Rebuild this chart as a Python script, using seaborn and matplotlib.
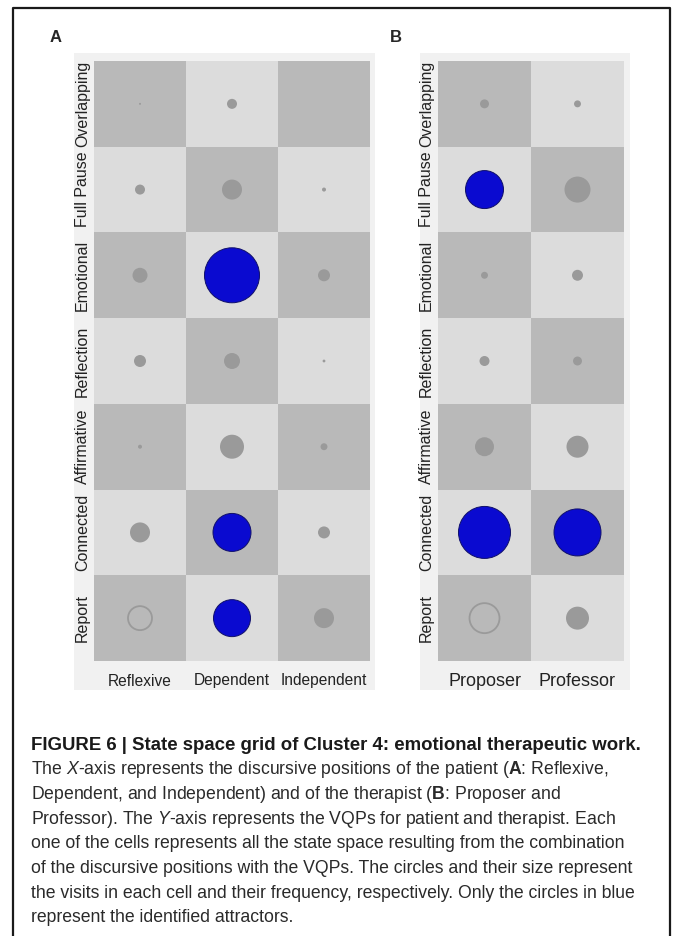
import numpy as np
import pandas as pd
import matplotlib
matplotlib.use("Agg")
import matplotlib.pyplot as plt
import seaborn as sns
from matplotlib.colors import ListedColormap
from matplotlib.lines import Line2D
from matplotlib.patches import Rectangle

# --- data ---------------------------------------------------------------
vqp = ["Overlapping", "Full Pause", "Emotional", "Reflection",
       "Affirmative", "Connected", "Report"]
patient_pos = ["Reflexive", "Dependent", "Independent"]
therapist_pos = ["Proposer", "Professor"]

# visits per cell (circle area), rows follow vqp from top to bottom
visits_reflexive = [1, 25, 56, 36, 4, 100, 144]
visits_dependent = [25, 100, 756, 64, 144, 361, 342]
visits_independent = [0, 4, 36, 2, 12, 36, 100]
visits_proposer = [20, 361, 12, 25, 90, 676, 225]
visits_professor = [12, 169, 30, 20, 121, 552, 132]

attractors_a = [("Emotional", "Dependent"), ("Connected", "Dependent"),
                ("Report", "Dependent")]
attractors_b = [("Full Pause", "Proposer"), ("Connected", "Proposer"),
                ("Connected", "Professor")]
hollow_a = [("Report", "Reflexive")]
hollow_b = [("Report", "Proposer")]

caption = [
    "FIGURE 6 | State space grid of Cluster 4: emotional therapeutic work.",
    r"The $\it{X}$-axis represents the discursive positions of the patient ($\bf{A}$: Reflexive,",
    r"Dependent, and Independent) and of the therapist ($\bf{B}$: Proposer and",
    r"Professor). The $\it{Y}$-axis represents the VQPs for patient and therapist. Each",
    "one of the cells represents all the state space resulting from the combination",
    "of the discursive positions with the VQPs. The circles and their size represent",
    "the visits in each cell and their frequency, respectively. Only the circles in blue",
    "represent the identified attractors.",
]

DARK = "#b9b9b9"
LIGHT = "#dcdcdc"
DOT = "#9a9a9a"
BLUE = "#0a0ad0"
VMAX = 800
AREA_PER_VISIT = 2.0736  # pt^2 per visit

sns.set_style("white")
plt.rcParams["font.family"] = ["Liberation Sans", "DejaVu Sans"]
plt.rcParams["mathtext.fontset"] = "custom"
plt.rcParams["mathtext.rm"] = "Liberation Sans"
plt.rcParams["mathtext.it"] = "Liberation Sans:italic"
plt.rcParams["mathtext.bf"] = "Liberation Sans:bold"


def draw_panel(ax, cols, visit_lists, attractors, hollow, xfs):
    checker = pd.DataFrame(
        [[(i + j) % 2 == 0 for j in range(len(cols))] for i in range(len(vqp))],
        index=vqp, columns=cols).astype(int)
    sns.heatmap(checker, ax=ax, cmap=ListedColormap([LIGHT, DARK]),
                vmin=0, vmax=1, cbar=False, linewidths=0)

    rows = []
    for j, col in enumerate(cols):
        for i, row in enumerate(vqp):
            v = visit_lists[j][i]
            if v <= 0:
                continue
            if (row, col) in attractors:
                kind = "attractor"
            elif (row, col) in hollow:
                kind = "hollow"
            else:
                kind = "visit"
            rows.append({"x": j + 0.5, "y": i + 0.5, "visits": v, "kind": kind})
    df = pd.DataFrame(rows)

    common = dict(x="x", y="y", size="visits", sizes=(0, AREA_PER_VISIT * VMAX),
                  size_norm=(0, VMAX), legend=False, ax=ax, zorder=3)
    sns.scatterplot(data=df[df.kind == "visit"], color=DOT, linewidth=0, **common)
    sns.scatterplot(data=df[df.kind == "attractor"], color=BLUE,
                    edgecolor="#10106a", linewidth=0.7, **common)
    sns.scatterplot(data=df[df.kind == "hollow"], facecolors="none",
                    edgecolor=DOT, linewidth=1.3, **common)

    ax.set_xlim(0, len(cols))
    ax.set_ylim(len(vqp), 0)
    ax.set_xlabel("")
    ax.set_ylabel("")
    ax.set_xticks(np.arange(len(cols)) + 0.5)
    ax.set_xticklabels(cols, rotation=0, fontsize=xfs, color="#222222")
    ax.set_yticks(np.arange(len(vqp)) + 0.5)
    ax.set_yticklabels(vqp, rotation=90, va="center", fontsize=11.5,
                       color="#222222")
    ax.tick_params(axis="both", length=0)
    ax.tick_params(axis="x", pad=9)
    ax.tick_params(axis="y", pad=3)
    for s in ax.spines.values():
        s.set_visible(False)


W, H = 675, 936
fig = plt.figure(figsize=(W / 100, H / 100), dpi=100)

# light panels behind the grids
for x0, x1 in [(74, 375), (420, 630)]:
    fig.add_artist(Rectangle((x0 / W, 1 - 690 / H), (x1 - x0) / W, (690 - 53) / H,
                             transform=fig.transFigure, facecolor="#f1f1f1",
                             edgecolor="none", zorder=0))

ax_a = fig.add_axes([94 / W, 1 - 661 / H, 276 / W, 600 / H])
ax_b = fig.add_axes([438 / W, 1 - 661 / H, 186 / W, 600 / H])

draw_panel(ax_a, patient_pos,
           [visits_reflexive, visits_dependent, visits_independent],
           attractors_a, hollow_a, 11.2)
draw_panel(ax_b, therapist_pos, [visits_proposer, visits_professor],
           attractors_b, hollow_b, 13)

fig.text(50 / W, 1 - 38 / H, "A", fontsize=12, fontweight="bold", va="center")
fig.text(390 / W, 1 - 38 / H, "B", fontsize=12, fontweight="bold", va="center")

# caption
y0, dy = 745, 24.7
for k, line in enumerate(caption):
    fig.text(31 / W, 1 - (y0 + k * dy) / H, line,
             fontsize=13.4 if k == 0 else 12.7, va="center",
             color="#2a2a2a" if k else "#1a1a1a",
             fontweight="bold" if k == 0 else "normal")

# frame round the figure (open at the bottom)
fig.add_artist(Line2D([13 / W, 13 / W, 670 / W, 670 / W],
                      [0, 1 - 8 / H, 1 - 8 / H, 0],
                      transform=fig.transFigure, color="#1a1a1a", lw=1.6))

fig.savefig("out.png", dpi=100)
